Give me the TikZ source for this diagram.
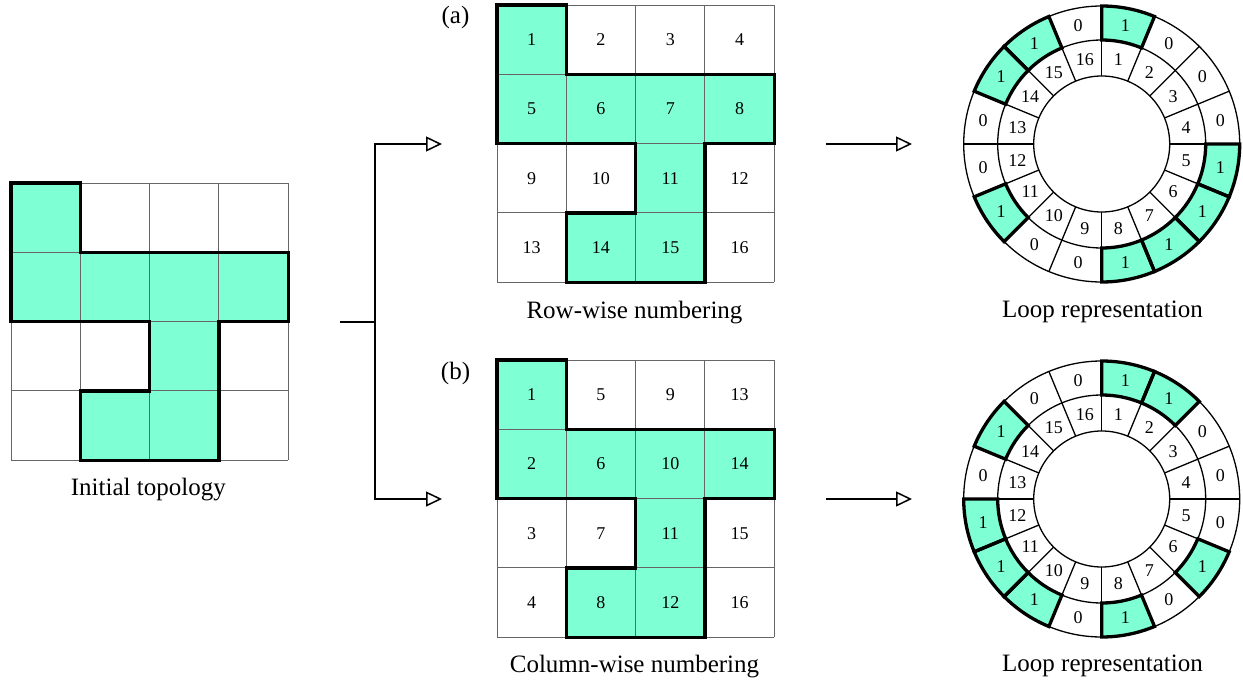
\documentclass[tikz,border=0pt]{standalone}
\usepackage{fontspec}
\setmainfont{Liberation Serif}
\usetikzlibrary{arrows.meta}
\definecolor{aqua}{RGB}{127,255,212}
\tikzset{
  gridline/.style={draw=black!60, line width=1pt},
  outline/.style={draw=black, line width=3.3pt},
  cellfill/.style={fill=aqua},
  ringline/.style={draw=black, line width=1.3pt},
  num/.style={font=\fontsize{18}{18}\selectfont, inner sep=0pt},
  rnum/.style={font=\fontsize{18}{18}\selectfont, inner sep=0pt},
  lbl/.style={font=\fontsize{25}{25}\selectfont, inner sep=0pt, anchor=base},
  arr/.style={line width=1.5pt, -{Triangle[open, length=16pt, width=15pt, line width=1.5pt]}},
  plain/.style={line width=1.5pt},
}
\newcommand\mygrid[4]{% #1 x, #2 y, #3 name prefix, #4 mode (0 none, 1 row, 2 column)
\begin{scope}[shift={(#1,#2)}, x=69.3pt, y=-69.3pt]
  \foreach \cx/\cy in {0/0,0/1,1/1,2/1,3/1,2/2,1/3,2/3}
    \fill[cellfill] (\cx,\cy) rectangle ++(1,1);
  \foreach \i in {0,...,4} {
    \draw[gridline] (\i,0) -- (\i,4);
    \draw[gridline] (0,\i) -- (4,\i);
  }
  \draw[outline] (0,0) -- (1,0) -- (1,1) -- (4,1) -- (4,2) -- (3,2) -- (3,4)
     -- (1,4) -- (1,3) -- (2,3) -- (2,2) -- (0,2) -- cycle;
  \ifnum#4>0
  \foreach \r in {0,...,3} {
    \foreach \c in {0,...,3} {
      \ifnum#4=1 \pgfmathtruncatemacro\n{4*\r+\c+1}\else\pgfmathtruncatemacro\n{4*\c+\r+1}\fi
      \node[num] (#3-\n) at (\c+0.5,\r+0.5) {\n};
    }
  }
  \fi
\end{scope}}
\newcommand\myring[4]{% #1 x, #2 y, #3 name prefix, #4 values
\begin{scope}[shift={(#1,#2)}]
  \foreach \v [count=\k] in {#4} {
    \pgfmathsetmacro\aa{90-22.5*(\k-1)}
    \pgfmathsetmacro\ab{90-22.5*\k}
    \ifnum\v=1
      \fill[cellfill] (\aa:104pt) arc[start angle=\aa, end angle=\ab, radius=104pt]
        -- (\ab:138pt) arc[start angle=\ab, end angle=\aa, radius=138pt] -- cycle;
    \fi
  }
  \draw[ringline] (0,0) circle[radius=68pt];
  \draw[ringline] (0,0) circle[radius=104pt];
  \draw[ringline] (0,0) circle[radius=138pt];
  \foreach \k in {0,...,15}
    \draw[ringline] ({90-22.5*\k}:68pt) -- ({90-22.5*\k}:138pt);
  \foreach \v [count=\k] in {#4} {
    \pgfmathsetmacro\aa{90-22.5*(\k-1)}
    \pgfmathsetmacro\ab{90-22.5*\k}
    \pgfmathsetmacro\am{90-22.5*(\k-0.5)}
    \ifnum\v=1
      \draw[outline] (\aa:104pt) arc[start angle=\aa, end angle=\ab, radius=104pt]
        -- (\ab:138pt) arc[start angle=\ab, end angle=\aa, radius=138pt] -- cycle;
    \fi
    \node[rnum] (#3-in-\k) at (\am:86pt) {\k};
    \node[rnum] (#3-out-\k) at (\am:121pt) {\v};
  }
\end{scope}}
\begin{document}
\begin{tikzpicture}[x=1pt, y=-1pt]
\useasboundingbox (0,0) rectangle (1243,680);
% grids
\mygrid{11}{183}{g0}{0}
\mygrid{497}{5}{ga}{1}
\mygrid{497}{360}{gb}{2}
% rings
\myring{1101.7}{144}{ra}{1,0,0,0,1,1,1,1,0,0,1,0,0,1,1,0}
\myring{1101.7}{499}{rb}{1,1,0,0,0,1,0,1,0,1,1,1,0,1,0,0}
% labels
\node[lbl] (tinit) at (148.3,495) {Initial topology};
\node[lbl] (tla) at (455.5,23.6) {(a)};
\node[lbl] (tlb) at (455.5,379) {(b)};
\node[lbl] (trow) at (634.5,318.3) {Row-wise numbering};
\node[lbl] (tcol) at (634.5,672.8) {Column-wise numbering};
\node[lbl] (tloopa) at (1102.5,317) {Loop representation};
\node[lbl] (tloopb) at (1102.5,671.5) {Loop representation};
% connectors
\coordinate (stub) at (340,322);
\coordinate (split) at (375,322);
\coordinate (ina) at (442,144);
\coordinate (inb) at (442,499);
\coordinate (outa) at (826,144);
\coordinate (enda) at (912,144);
\coordinate (outb) at (826,499);
\coordinate (endb) at (912,499);
\draw[plain] (stub) -- (split);
\draw[arr] (split) |- (ina);
\draw[arr] (split) |- (inb);
\draw[arr] (outa) -- (enda);
\draw[arr] (outb) -- (endb);
\end{tikzpicture}
\end{document}
